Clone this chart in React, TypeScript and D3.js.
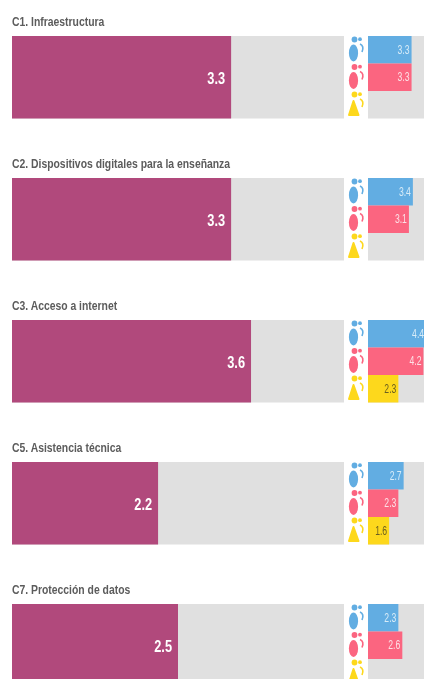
import React from "react";
import * as d3 from "d3";

const categories = ["C1. Infraestructura", "C2. Dispositivos digitales para la enseñanza", "C3. Acceso a internet", "C5. Asistencia técnica", "C7. Protección de datos"];
const totals = [3.3, 3.3, 3.6, 2.2, 2.5];
const blueValues = [3.3, 3.4, 4.4, 2.7, 2.3];
const redValues = [3.3, 3.1, 4.2, 2.3, 2.6];
const yellowValues: (number | null)[] = [null, null, 2.3, 1.6, null];

const FONT = "'Liberation Sans', sans-serif";
const mainX = d3.scaleLinear().domain([0, 5]).range([12, 344]);
const subX = d3.scaleLinear().domain([0, 5]).range([368, 434]);
const rowY = d3.scaleLinear().domain([0, 1]).range([36, 178]);
const h = 82.5;
const subColors = ["#62ade2", "#fb6580", "#fdd81f"];
const labelColors = ["#d8ecf8", "#fde0e5", "#6b5f20"];

function NarrowText({ x, y, sx, anchor, size, weight, fill, children }: any) {
  return (
    <text transform={`translate(${x},${y}) scale(${sx},1)`} textAnchor={anchor} fontFamily={FONT} fontSize={size} fontWeight={weight} fill={fill}>{children}</text>
  );
}

function Icon({ y, color, kind }: { y: number; color: string; kind: number }) {
  return (
    <g transform={`translate(0,${y})`} fill={color}>
      <circle cx={354.5} cy={3.5} r={2.9} />
      <circle cx={360} cy={3.2} r={1.9} />
      {kind < 2 ? (
        <ellipse cx={353.5} cy={17} rx={4.6} ry={8.4} />
      ) : (
        <path d="M353.5 10 L358.5 24 L349 24 Z" strokeLinejoin="round" stroke={color} strokeWidth={2} />
      )}
      <path d="M360 8 Q364.5 10 362 16" fill="none" stroke={color} strokeWidth={1.6} />
    </g>
  );
}

export default function App() {
  const sub = h / 3;
  return (
    <svg width={424} height={679} style={{ position: "absolute", left: 0, top: 0, display: "block" }}>
      <defs>
        <filter id="soft" x="-5%" y="-5%" width="110%" height="110%">
          <feGaussianBlur stdDeviation="0.65" />
        </filter>
      </defs>
      <g filter="url(#soft)">
        {categories.map((c, i) => {
          const y = rowY(i);
          return (
            <g key={c}>
              <NarrowText x={12} y={y - 10} sx={0.77} anchor="start" size={13.5} weight={700} fill="#5c5c5c">{c}</NarrowText>
              <rect x={mainX(0)} y={y} width={mainX(5) - mainX(0)} height={h} fill="#e0e0e0" />
              <rect x={mainX(0)} y={y} width={mainX(totals[i]) - mainX(0)} height={h} fill="#b14a7c" />
              <NarrowText x={mainX(totals[i]) - 6} y={y + h / 2 + 6.5} sx={0.8} anchor="end" size={16} weight={700} fill="#fff">{totals[i].toFixed(1)}</NarrowText>
              <rect x={subX(0)} y={y} width={subX(5) - subX(0)} height={h} fill="#e0e0e0" />
              {[blueValues[i], redValues[i], yellowValues[i]].map((v, k) => (
                <g key={k}>
                  <Icon y={y + k * sub} color={subColors[k]} kind={k} />
                  {v != null && (
                    <>
                      <rect x={subX(v === null ? 0 : 0)} y={y + k * sub} width={subX(v) - subX(0)} height={sub} fill={subColors[k]} />
                      <NarrowText x={subX(v) - 2} y={y + k * sub + sub / 2 + 4} sx={0.72} anchor="end" size={12} weight={400} fill={labelColors[k]}>{v.toFixed(1)}</NarrowText>
                    </>
                  )}
                </g>
              ))}
            </g>
          );
        })}
      </g>
    </svg>
  );
}
